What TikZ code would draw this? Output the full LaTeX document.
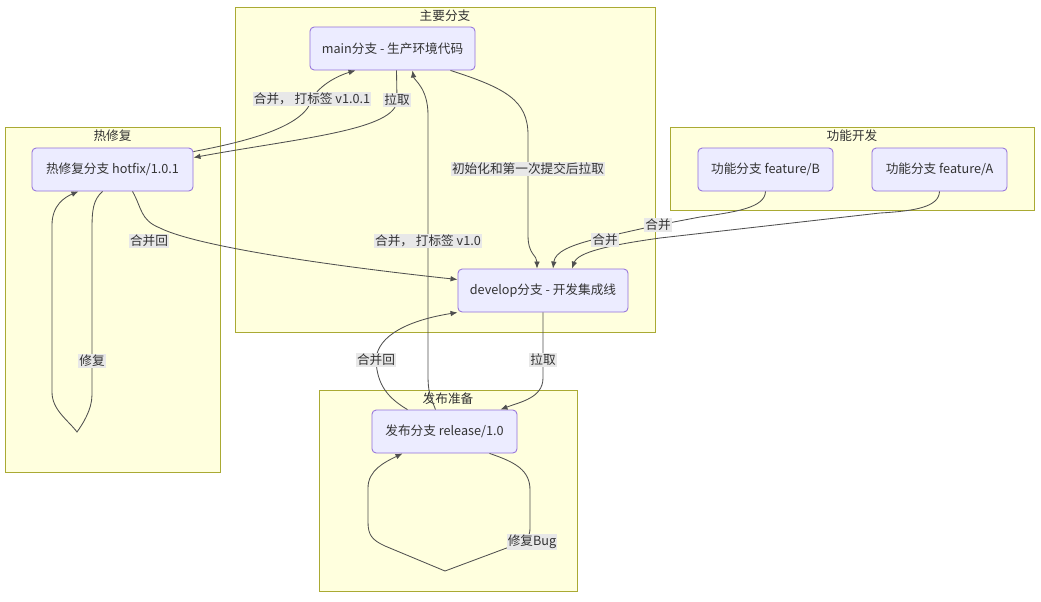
\documentclass[tikz,border=0pt]{standalone}
\usepackage{fontspec}
\setmainfont{Noto Sans CJK SC}
\usetikzlibrary{positioning,calc,arrows.meta}
\definecolor{grpfill}{HTML}{FFFFDE}
\definecolor{grpline}{HTML}{AAAA33}
\definecolor{boxfill}{HTML}{ECECFF}
\definecolor{boxline}{HTML}{9370DB}
\definecolor{edgeline}{HTML}{505050}
\definecolor{lblfill}{HTML}{E8E8E8}
\definecolor{txt}{HTML}{333333}

\begin{document}
\begin{tikzpicture}[
    x=0.025cm, y=-0.025cm,
    every node/.style={font=\fontsize{9}{11}\selectfont, text=txt},
    grp/.style={rectangle, draw=grpline, fill=grpfill, line width=0.6pt, inner sep=0pt},
    title/.style={inner sep=2pt},
    box/.style={rectangle, rounded corners=3pt, draw=boxline, fill=boxfill, line width=0.6pt, minimum height=1.075cm},
    lbl/.style={fill=lblfill, inner sep=0.8pt},
    arrow/.style={-{Latex[length=5pt,width=4pt]}, draw=edgeline, line width=0.6pt}
]
\path[use as bounding box, fill=white] (0,0) rectangle (1041,601);
% Groups
\node[grp, minimum width=10.5cm, minimum height=8.125cm] (gmain) at (445,169.5) {};
\node[title, below=0pt of gmain.north] (tmain) {主要分支};
\node[grp, minimum width=5.375cm, minimum height=8.625cm] (ghot) at (112.5,299.5) {};
\node[title, below=0pt of ghot.north] (thot) {热修复};
\node[grp, minimum width=9.1cm, minimum height=2.075cm] (gfeat) at (852,168.5) {};
\node[title, below=0pt of gfeat.north] (tfeat) {功能开发};
\node[grp, minimum width=6.45cm, minimum height=5.025cm] (grel) at (448,490.5) {};
\node[title, below=0pt of grel.north] (trel) {发布准备};
% Branches
\node[box, minimum width=4.125cm] (main) at (392.5,48.5) {main分支 - 生产环境代码};
\node[box, minimum width=4.025cm] (hotfix) at (112.5,169.5) {热修复分支 hotfix/1.0.1};
\node[box, minimum width=3.375cm] (featB) at (765.5,169.5) {功能分支 feature/B};
\node[box, minimum width=3.375cm] (featA) at (939.5,169.5) {功能分支 feature/A};
\node[box, minimum width=4.25cm] (develop) at (543,290.5) {develop分支 - 开发集成线};
\node[box, minimum width=3.625cm] (release) at (444.5,431.5) {发布分支 release/1.0};
% Hotfix and main
\draw[arrow] ($(hotfix.north east)+(0,4)$) .. controls (255,140) and (305,125) .. (312,99) node[lbl] {合并， 打标签 v1.0.1} .. controls (320,84) and (340,75) .. ($(main.south west)+(46,0)$);
\draw[arrow] ($(main.south)+(4,0)$) -- (397,100) node[lbl] {拉取} .. controls (397,130) and (300,138) .. ($(hotfix.north east)+(0,10)$);
% Main to develop
\draw[arrow] ($(main.south east)+(-25,0)$) .. controls (505,88) and (528,100) .. (528,135) -- (528,169) node[lbl] {初始化和第一次提交后拉取} -- (528,235) .. controls (528,255) and (537,255) .. ($(develop.north)+(-6,0)$);
% Release to main
\draw[arrow] ($(release.north)+(-9,0)$) .. controls (430,395) and (428,392) .. (428,375) -- (428,241) node[lbl] {合并， 打标签 v1.0} -- (428,115) .. controls (428,88) and (414,80) .. ($(main.south)+(20,0)$);
% Hotfix to develop
\draw[arrow] ($(hotfix.south)+(20,0)$) .. controls (142,208) and (140,220) .. (160,228) .. controls (200,248) and (350,268) .. ($(develop.west)+(0,-11)$) node[lbl] at (149,241) {合并回};
% Features to develop
\draw[arrow] (featB.south) .. controls (765,208) and (735,212) .. (700,217) -- (658,225) node[lbl] {合并} -- (600,238) .. controls (570,245) and (555,252) .. ($(develop.north)+(10,0)$);
\draw[arrow] (featA.south) .. controls (939,207) and (915,211) .. (880,213) -- (660,238) .. controls (610,245) and (578,252) .. ($(develop.north)+(29,0)$) node[lbl] at (605,240) {合并};
% Develop and release
\draw[arrow] (develop.south) -- (543,360) node[lbl] {拉取} -- (543,378) .. controls (543,398) and (520,402) .. ($(release.north east)+(-17,0)$);
\draw[arrow] ($(release.north)+(-37,0)$) .. controls (388,398) and (377,385) .. (376,360) node[lbl] {合并回} .. controls (377,335) and (410,320) .. (develop.south west);
% Fix loops
\draw[arrow] ($(hotfix.south)+(-10,0)$) .. controls (93,200) and (92,210) .. (92,230) -- (92,361) node[lbl] {修复} -- (92,395) .. controls (92,410) and (82,425) .. (77,432) .. controls (68,420) and (52,410) .. (52,392) -- (52,225) .. controls (52,205) and (65,197) .. ($(hotfix.south)+(-34,0)$);
\draw[arrow] ($(release.south)+(45,0)$) .. controls (515,462) and (530,470) .. (530,490) -- (530,528) .. controls (530,536) and (527,540) .. (520,543) -- (445,571) -- (385,546) .. controls (372,540) and (368,535) .. (368,522) -- (368,488) .. controls (368,470) and (385,462) .. ($(release.south)+(-42,0)$) node[lbl] at (532,542) {修复Bug};
\end{tikzpicture}
\end{document}
